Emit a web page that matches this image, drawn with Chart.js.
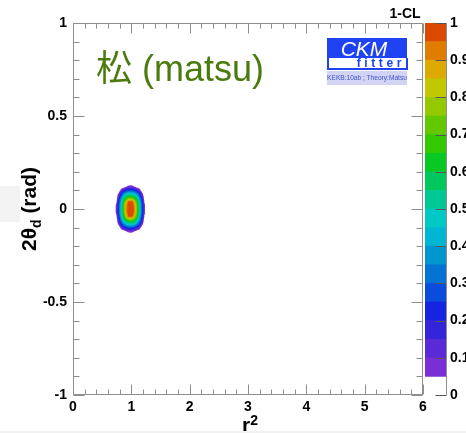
<!DOCTYPE html>
<html>
<head>
<meta charset="utf-8">
<script src="https://cdn.jsdelivr.net/npm/chart.js@4.4.1/dist/chart.umd.min.js"></script>
<style>
  html, body { margin: 0; padding: 0; background: #fff; width: 466px; height: 433px; overflow: hidden; }
  #wrap { position: relative; width: 466px; height: 433px; }
  #wrap canvas { position: absolute; left: 0; top: 0; }
  .smudge { position: absolute; left: 0; top: 186px; width: 20px; height: 36px; background: #f3f3f3; }
  .footer { position: absolute; left: 0; top: 431px; width: 466px; height: 2px; background: #f1f1f1; }
  #logo { position: absolute; left: 327px; top: 38px; width: 80px; font-family: 'Liberation Sans', Arial, sans-serif; }
  #logo .ckm { background: #1f43f2; height: 20px; line-height: 21px; color: #fff; font-style: italic; font-size: 21px; text-align: center; padding-right: 6px; }
  #logo .fitter { background: #fff; border: 2px solid #1f43f2; border-top: 0; height: 10px; line-height: 10px; color: #1f43f2; font-weight: bold; font-size: 12px; letter-spacing: 3.6px; text-align: right; padding-right: 1px; box-sizing: content-box; width: 76px; }
  #logo .exp { margin-top: 1px; background: #d3d3f3; height: 14px; line-height: 14px; color: #3a55d0; font-size: 6.6px; text-align: center; white-space: nowrap; }
</style>
</head>
<body>
<div id="wrap">
  <canvas id="plane" width="466" height="433"></canvas>
  <canvas id="scale" width="466" height="433"></canvas>
  <div class="smudge"></div>
  <div class="footer"></div>
  <div id="logo">
    <div class="ckm">CKM</div>
    <div class="fitter">fitter</div>
    <div class="exp">KEKB:10ab ; Theory:Matsu</div>
  </div>
</div>
<script>
// 1-CL profile in the (r^2, 2theta_d) plane, binned on a regular grid
const r2Centers = [0.745, 0.785, 0.825, 0.865, 0.905, 0.945, 0.985, 1.025, 1.065, 1.105, 1.145, 1.185, 1.225];
const thetaCenters = [0.12, 0.10, 0.08, 0.06, 0.04, 0.02, 0.00, -0.02, -0.04, -0.06, -0.08, -0.10, -0.12];
const oneMinusCL = [
  [0, 0, 0, 0, 0.04, 0.07, 0.08, 0.07, 0.04, 0, 0, 0, 0],
  [0, 0, 0.08, 0.17, 0.23, 0.27, 0.28, 0.27, 0.23, 0.17, 0.08, 0, 0],
  [0, 0.08, 0.23, 0.35, 0.44, 0.49, 0.50, 0.49, 0.44, 0.35, 0.23, 0.08, 0],
  [0, 0.17, 0.35, 0.49, 0.62, 0.70, 0.72, 0.70, 0.62, 0.49, 0.35, 0.17, 0],
  [0.04, 0.23, 0.43, 0.61, 0.79, 0.95, 0.96, 0.95, 0.79, 0.61, 0.43, 0.23, 0.04],
  [0.07, 0.27, 0.48, 0.67, 0.87, 0.98, 0.99, 0.98, 0.87, 0.67, 0.48, 0.27, 0.07],
  [0.07, 0.27, 0.49, 0.68, 0.88, 0.99, 0.99, 0.99, 0.88, 0.68, 0.49, 0.27, 0.07],
  [0.07, 0.27, 0.48, 0.67, 0.87, 0.98, 0.99, 0.98, 0.87, 0.67, 0.48, 0.27, 0.07],
  [0.04, 0.23, 0.43, 0.61, 0.79, 0.95, 0.96, 0.95, 0.79, 0.61, 0.43, 0.23, 0.04],
  [0, 0.17, 0.35, 0.49, 0.62, 0.70, 0.72, 0.70, 0.62, 0.49, 0.35, 0.17, 0],
  [0, 0.08, 0.23, 0.35, 0.44, 0.49, 0.50, 0.49, 0.44, 0.35, 0.23, 0.08, 0],
  [0, 0, 0.08, 0.17, 0.23, 0.27, 0.28, 0.27, 0.23, 0.17, 0.08, 0, 0],
  [0, 0, 0, 0, 0.04, 0.07, 0.08, 0.07, 0.04, 0, 0, 0, 0]
];

// axis ticks
const r2Ticks = [0, 1, 2, 3, 4, 5, 6];
const thetaTicks = [-1, -0.5, 0, 0.5, 1];
const clTicks = [0, 0.1, 0.2, 0.3, 0.4, 0.5, 0.6, 0.7, 0.8, 0.9, 1];

// contour levels of the colour scale and the colour of each band
const clLevels = [0.05, 0.10, 0.15, 0.20, 0.25, 0.30, 0.35, 0.40, 0.45, 0.50, 0.55, 0.60, 0.65, 0.70, 0.75, 0.80, 0.85, 0.90, 0.95, 1.00];
const bandColors = [
  '#7a2fd6', '#5a2ad6', '#3424da', '#1424e0', '#0a4cdc', '#0474d4', '#0096d0', '#00b6d2', '#00c8c4', '#00c894',
  '#00c85c', '#08c824', '#34c800', '#64c800', '#94c800', '#c2c800', '#dcaa00', '#e07c00', '#da4a00'
];

const GREY = '#8e8e8e';
const FONT = "'Liberation Sans', Arial, Helvetica, sans-serif";
const TITLE_GREEN = '#4b7b0c';

function bandIndex(v) {
  for (let k = clLevels.length - 2; k >= 0; k--) {
    if (v >= clLevels[k]) return k;
  }
  return -1;
}
const bandRGB = bandColors.map(h => [1, 3, 5].map(o => parseInt(h.substr(o, 2), 16)));

// value of the binned map at (r2, theta), bilinear between bin centres
function mapValue(r2, th) {
  const fi = (r2 - r2Centers[0]) / (r2Centers[1] - r2Centers[0]);
  const fj = (th - thetaCenters[0]) / (thetaCenters[1] - thetaCenters[0]);
  const i0 = Math.floor(fi), j0 = Math.floor(fj);
  const ti = fi - i0, tj = fj - j0;
  const g = (i, j) => (j >= 0 && j < thetaCenters.length && i >= 0 && i < r2Centers.length) ? oneMinusCL[j][i] : 0;
  return (g(i0, j0) * (1 - ti) + g(i0 + 1, j0) * ti) * (1 - tj) +
         (g(i0, j0 + 1) * (1 - ti) + g(i0 + 1, j0 + 1) * ti) * tj;
}

const cells = [];
thetaCenters.forEach((t, j) => {
  r2Centers.forEach((r, i) => {
    const v = oneMinusCL[j][i];
    if (v > 0) cells.push({ x: r, y: t, v: v });
  });
});

// filled contour bands of the 1-CL map
const contourFill = {
  id: 'contourFill',
  beforeDatasetsDraw(chart) {
    const { ctx, scales: { x, y } } = chart;
    const pts = chart.data.datasets[0].data;
    const dr = r2Centers[1] - r2Centers[0];
    const dt = Math.abs(thetaCenters[1] - thetaCenters[0]);
    const xs = pts.map(p => p.x), ys = pts.map(p => p.y);
    const pxA = Math.floor(x.getPixelForValue(Math.min(...xs) - dr)) - 1;
    const pxB = Math.ceil(x.getPixelForValue(Math.max(...xs) + dr)) + 1;
    const pyA = Math.floor(y.getPixelForValue(Math.max(...ys) + dt)) - 1;
    const pyB = Math.ceil(y.getPixelForValue(Math.min(...ys) - dt)) + 1;
    const SS = 3;
    ctx.save();
    for (let py = pyA; py <= pyB; py++) {
      for (let px = pxA; px <= pxB; px++) {
        let r = 0, gg = 0, b = 0, n = 0;
        for (let sy = 0; sy < SS; sy++) {
          for (let sx = 0; sx < SS; sx++) {
            const v = mapValue(x.getValueForPixel(px + (sx + 0.5) / SS), y.getValueForPixel(py + (sy + 0.5) / SS));
            const k = bandIndex(v);
            if (k >= 0) { r += bandRGB[k][0]; gg += bandRGB[k][1]; b += bandRGB[k][2]; n++; }
          }
        }
        if (n > 0) {
          ctx.fillStyle = `rgba(${Math.round(r / n)},${Math.round(gg / n)},${Math.round(b / n)},${n / (SS * SS)})`;
          ctx.fillRect(px, py, 1, 1);
        }
      }
    }
    ctx.restore();
  }
};

function minorValues(majors, perMajor) {
  const out = [];
  for (let k = 0; k < majors.length - 1; k++) {
    const step = (majors[k + 1] - majors[k]) / perMajor;
    for (let m = 1; m < perMajor; m++) out.push(majors[k] + m * step);
  }
  return out;
}

// frame with ticks pointing inwards on all four sides
const frameTicks = {
  id: 'frameTicks',
  afterDraw(chart) {
    const { ctx, chartArea: a, scales: { x, y } } = chart;
    const L = Math.round(a.left) + 0.5, R = Math.round(a.right) - 0.5;
    const T = Math.round(a.top) + 0.5, B = Math.round(a.bottom) - 0.5;
    ctx.save();
    ctx.strokeStyle = GREY;
    ctx.lineWidth = 1;
    ctx.strokeRect(L, T, R - L, B - T);
    ctx.beginPath();
    const xt = (vals, len) => vals.forEach(v => {
      const p = Math.round(x.getPixelForValue(v)) + 0.5;
      ctx.moveTo(p, B); ctx.lineTo(p, B - len);
      ctx.moveTo(p, T); ctx.lineTo(p, T + len);
    });
    const yt = (vals, len) => vals.forEach(v => {
      const p = Math.round(y.getPixelForValue(v)) + 0.5;
      ctx.moveTo(L, p); ctx.lineTo(L + len, p);
      ctx.moveTo(R, p); ctx.lineTo(R - len, p);
    });
    xt(r2Ticks, 10);
    xt(minorValues(r2Ticks, 5), 5);
    yt(thetaTicks, 11);
    yt(minorValues(thetaTicks, 5), 6);
    ctx.stroke();
    ctx.restore();
  }
};

// plot title and axis titles
const planeTexts = {
  id: 'planeTexts',
  afterDraw(chart) {
    const { ctx, chartArea: a } = chart;
    ctx.save();
    ctx.fillStyle = TITLE_GREEN;
    ctx.textBaseline = 'alphabetic';
    ctx.textAlign = 'left';
    ctx.font = "36px 'Noto Sans CJK JP', sans-serif";
    const kanji = '松';
    ctx.fillText(kanji, a.left + 23, a.top + 58);
    const kw = ctx.measureText(kanji).width;
    ctx.font = '36px ' + FONT;
    ctx.fillText(' (matsu)', a.left + 23 + kw, a.top + 58);

    // x title: r^2
    ctx.fillStyle = '#000';
    const xc = (a.left + a.right) / 2;
    ctx.font = 'bold 21px ' + FONT;
    const rw = ctx.measureText('r').width;
    ctx.font = 'bold 14px ' + FONT;
    const sw = ctx.measureText('2').width;
    const x0 = xc - (rw + sw) / 2 + 2;
    ctx.font = 'bold 21px ' + FONT;
    ctx.fillText('r', x0, 432);
    ctx.font = 'bold 14px ' + FONT;
    ctx.fillText('2', x0 + rw, 425);

    // y title: 2theta_d (rad)
    const yc = (a.top + a.bottom) / 2;
    ctx.translate(36, yc);
    ctx.rotate(-Math.PI / 2);
    ctx.font = 'bold 21px ' + FONT;
    const w1 = ctx.measureText('2\u03b8').width;
    const w3 = ctx.measureText(' (rad)').width;
    ctx.font = 'bold 14px ' + FONT;
    const w2 = ctx.measureText('d').width;
    const sx = -(w1 + w2 + w3) / 2;
    ctx.font = 'bold 21px ' + FONT;
    ctx.fillText('2\u03b8', sx, 0);
    ctx.font = 'bold 14px ' + FONT;
    ctx.fillText('d', sx + w1, 5);
    ctx.font = 'bold 21px ' + FONT;
    ctx.fillText(' (rad)', sx + w1 + w2, 0);
    ctx.restore();
  }
};

const tickFont = { family: FONT, size: 14, weight: 'bold' };
const tickLabel = v => String(v);

new Chart(document.getElementById('plane'), {
  type: 'scatter',
  data: { datasets: [{ data: cells, pointRadius: 0, pointHoverRadius: 0, showLine: false }] },
  options: {
    responsive: false,
    animation: false,
    devicePixelRatio: 1,
    events: [],
    layout: { padding: { top: 23, right: 43, left: 0, bottom: 0 } },
    plugins: { legend: { display: false }, tooltip: { enabled: false } },
    scales: {
      x: {
        type: 'linear', min: 0, max: 6,
        afterFit(s) { s.height = 38; },
        afterBuildTicks(s) { s.ticks = r2Ticks.map(v => ({ value: v })); },
        grid: { display: false, drawTicks: false },
        border: { display: false },
        ticks: { font: tickFont, color: '#000', padding: 4, maxRotation: 0, callback: tickLabel }
      },
      y: {
        type: 'linear', min: -1, max: 1,
        afterFit(s) { s.width = 73; },
        afterBuildTicks(s) { s.ticks = thetaTicks.map(v => ({ value: v })); },
        grid: { display: false, drawTicks: false },
        border: { display: false },
        ticks: { font: tickFont, color: '#000', padding: 6, callback: tickLabel }
      }
    }
  },
  plugins: [contourFill, frameTicks, planeTexts]
});

// colour scale: one floating bar per contour band
const scaleDatasets = bandColors.map((c, k) => ({
  data: [[clLevels[k], clLevels[k + 1]]],
  backgroundColor: c,
  borderWidth: 0,
  grouped: false,
  barPercentage: 1,
  categoryPercentage: 1
}));

const scaleTicks = {
  id: 'scaleTicks',
  afterDraw(chart) {
    const { ctx, chartArea: a, scales: { y } } = chart;
    const R = Math.round(a.right) + 0.5;
    ctx.save();
    ctx.strokeStyle = '#555';
    ctx.lineWidth = 1;
    ctx.beginPath();
    clTicks.forEach(v => {
      const p = Math.round(y.getPixelForValue(v)) + 0.5;
      ctx.moveTo(R, p); ctx.lineTo(R - 11, p);
    });
    ctx.stroke();
    ctx.strokeStyle = GREY;
    ctx.beginPath();
    ctx.moveTo(R, Math.round(a.top)); ctx.lineTo(R, Math.round(a.bottom));
    ctx.stroke();
    ctx.fillStyle = '#000';
    ctx.font = 'bold 14px ' + FONT;
    ctx.textAlign = 'center';
    ctx.textBaseline = 'alphabetic';
    ctx.fillText('1-CL', a.left - 20, a.top - 5);
    ctx.restore();
  }
};

new Chart(document.getElementById('scale'), {
  type: 'bar',
  data: { labels: ['1-CL'], datasets: scaleDatasets },
  options: {
    responsive: false,
    animation: false,
    devicePixelRatio: 1,
    events: [],
    layout: { padding: { top: 23, right: 0, left: 425, bottom: 38 } },
    plugins: { legend: { display: false }, tooltip: { enabled: false } },
    scales: {
      x: { display: false },
      y: {
        position: 'right', min: 0, max: 1,
        afterFit(s) { s.width = 20; },
        afterBuildTicks(s) { s.ticks = clTicks.map(v => ({ value: v })); },
        grid: { display: false, drawTicks: false },
        border: { display: false },
        ticks: { font: tickFont, color: '#000', padding: 4, callback: tickLabel }
      }
    }
  },
  plugins: [scaleTicks]
});
</script>
</body>
</html>
